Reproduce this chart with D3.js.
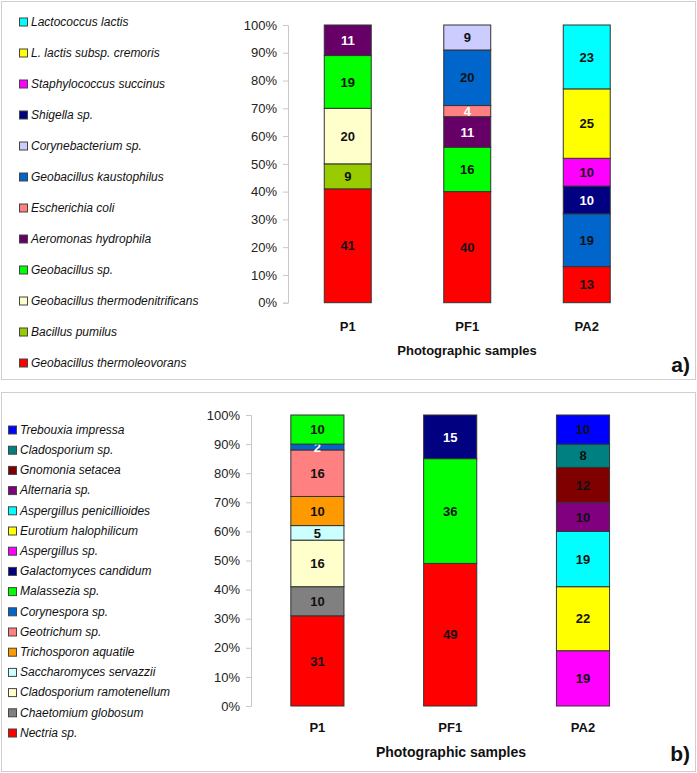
<!DOCTYPE html>
<html>
<head>
<meta charset="utf-8">
<script src="https://cdn.jsdelivr.net/npm/d3@7"></script>
<style>
  body { margin: 0; background: #fff; }
  svg { display: block; font-family: "Liberation Sans", Arial, sans-serif; }
</style>
</head>
<body>
<svg id="chart" width="697" height="773"></svg>
<script>
// samples on the x axis
const samples = ["P1", "PF1", "PA2"];

// panel a) bacteria, listed bottom of the stack first
const bacteria = [
    "Geobacillus thermoleovorans", "Bacillus pumilus", "Geobacillus thermodenitrificans",
    "Geobacillus sp.", "Aeromonas hydrophila", "Escherichia coli",
    "Geobacillus kaustophilus", "Corynebacterium sp.", "Shigella sp.",
    "Staphylococcus succinus", "L. lactis subsp. cremoris", "Lactococcus lactis"
];
const bacteriaColors = [
    "#ff0000", "#99cc00", "#ffffcc", "#00ff00", "#660066", "#ff8080",
    "#0066cc", "#ccccff", "#000080", "#ff00ff", "#ffff00", "#00ffff"
];
const bacteriaP1  = [41, 9, 20, 19, 11, 0, 0, 0, 0, 0, 0, 0];
const bacteriaPF1 = [40, 0, 0, 16, 11, 4, 20, 9, 0, 0, 0, 0];
const bacteriaPA2 = [13, 0, 0, 0, 0, 0, 19, 0, 10, 10, 25, 23];
const bacteriaWhiteLabels = ["Aeromonas hydrophila", "Escherichia coli", "Shigella sp."];

// panel b) fungi, listed bottom of the stack first
const fungi = [
    "Nectria sp.", "Chaetomium globosum", "Cladosporium ramotenellum",
    "Saccharomyces servazzii", "Trichosporon aquatile", "Geotrichum sp.",
    "Corynespora sp.", "Malassezia sp.", "Galactomyces candidum",
    "Aspergillus sp.", "Eurotium halophilicum", "Aspergillus penicillioides",
    "Alternaria sp.", "Gnomonia setacea", "Cladosporium sp.", "Trebouxia impressa"
];
const fungiColors = [
    "#ff0000", "#808080", "#ffffcc", "#ccffff", "#ff9900", "#ff8080",
    "#0066cc", "#00ff00", "#000080", "#ff00ff", "#ffff00", "#00ffff",
    "#800080", "#800000", "#008080", "#0000ff"
];
const fungiP1  = [31, 10, 16, 5, 10, 16, 2, 10, 0, 0, 0, 0, 0, 0, 0, 0];
const fungiPF1 = [49, 0, 0, 0, 0, 0, 0, 36, 15, 0, 0, 0, 0, 0, 0, 0];
const fungiPA2 = [0, 0, 0, 0, 0, 0, 0, 0, 0, 19, 22, 19, 10, 12, 8, 10];
const fungiWhiteLabels = ["Corynespora sp.", "Galactomyces candidum"];

const yTicks = [0, 10, 20, 30, 40, 50, 60, 70, 80, 90, 100];

const svg = d3.select("#chart");

function drawPanel(p) {
    const g = svg.append("g");

    // panel frame
    g.append("rect")
        .attr("x", p.box[0] + 0.5).attr("y", p.box[1] + 0.5)
        .attr("width", p.box[2]).attr("height", p.box[3])
        .attr("fill", "#fff").attr("stroke", "#cfcfcf");

    const x = d3.scaleBand()
        .domain(samples)
        .range([p.axisX, p.axisX + p.plotW])
        .paddingInner(p.pad).paddingOuter(p.pad / 2);

    const y = d3.scaleLinear().domain([0, 100]).range([p.y0, p.y1]);

    // y axis
    const yAxis = g.append("g")
        .attr("transform", `translate(${p.axisX},0)`)
        .call(d3.axisLeft(y).tickValues(yTicks).tickSize(5).tickPadding(6)
            .tickFormat(d => d + "%"));
    yAxis.selectAll("path, line").attr("stroke", "#c8c8c8");
    yAxis.selectAll("text")
        .attr("fill", "#222")
        .style("font-size", "13px")
        .style("font-family", "'Liberation Sans', Arial, sans-serif");

    // stacked segments
    const series = [p.v1, p.v2, p.v3];
    samples.forEach((s, si) => {
        let acc = 0;
        p.names.forEach((name, k) => {
            const v = series[si][k];
            if (!v) return;
            const lo = acc, hi = acc + v;
            acc = hi;
            g.append("rect")
                .attr("x", x(s))
                .attr("y", y(hi))
                .attr("width", x.bandwidth())
                .attr("height", y(lo) - y(hi))
                .attr("fill", p.colors[k])
                .attr("stroke", "#333")
                .attr("stroke-width", 1);
            g.append("text")
                .attr("x", x(s) + x.bandwidth() / 2)
                .attr("y", (y(lo) + y(hi)) / 2)
                .attr("dy", "0.36em")
                .attr("text-anchor", "middle")
                .attr("fill", p.white.includes(name) ? "#fff" : "#111")
                .style("font-size", "13px")
                .style("font-weight", "bold")
                .text(v);
        });
    });

    // x labels
    samples.forEach(s => {
        g.append("text")
            .attr("x", x(s) + x.bandwidth() / 2)
            .attr("y", p.xLabelY)
            .attr("text-anchor", "middle")
            .attr("fill", "#111")
            .style("font-size", "13px")
            .style("font-weight", "bold")
            .text(s);
    });

    g.append("text")
        .attr("x", p.titleX)
        .attr("y", p.titleY)
        .attr("text-anchor", "middle")
        .attr("fill", "#111")
        .style("font-size", p.titleSize)
        .style("font-weight", "bold")
        .text("Photographic samples");

    g.append("text")
        .attr("x", p.tagX)
        .attr("y", p.tagY)
        .attr("text-anchor", "end")
        .attr("fill", "#111")
        .style("font-size", "21px")
        .style("font-weight", "bold")
        .text(p.tag);

    // legend, top entry is last in the stack
    const legendNames = p.names.slice().reverse();
    const legendColors = p.colors.slice().reverse();
    legendNames.forEach((name, i) => {
        const cy = p.legendY + i * p.legendStep;
        g.append("rect")
            .attr("x", p.legendX + 0.5).attr("y", cy - 4 + 0.5)
            .attr("width", 8).attr("height", 8)
            .attr("fill", legendColors[i])
            .attr("stroke", "#444");
        g.append("text")
            .attr("x", p.legendX + 12)
            .attr("y", cy)
            .attr("dy", "0.35em")
            .attr("fill", "#111")
            .style("font-size", "12px")
            .style("font-style", "italic")
            .text(name);
    });
}

drawPanel({
    box: [1, 1, 694, 378],
    names: bacteria, colors: bacteriaColors,
    v1: bacteriaP1, v2: bacteriaPF1, v3: bacteriaPA2,
    white: bacteriaWhiteLabels,
    axisX: 288, plotW: 358.5, pad: 0.607,
    y0: 302.7, y1: 25,
    xLabelY: 330.5, titleX: 467, titleY: 355, titleSize: "13px",
    tagX: 690, tagY: 372, tag: "a)",
    legendX: 19, legendY: 21.5, legendStep: 31
});

drawPanel({
    box: [1, 392, 694, 379],
    names: fungi, colors: fungiColors,
    v1: fungiP1, v2: fungiPF1, v3: fungiPA2,
    white: fungiWhiteLabels,
    axisX: 251, plotW: 398.4, pad: 0.6,
    y0: 706, y1: 415,
    xLabelY: 731.5, titleX: 451, titleY: 757, titleSize: "14px",
    tagX: 690, tagY: 761, tag: "b)",
    legendX: 8, legendY: 429.5, legendStep: 20.2
});
</script>
</body>
</html>
